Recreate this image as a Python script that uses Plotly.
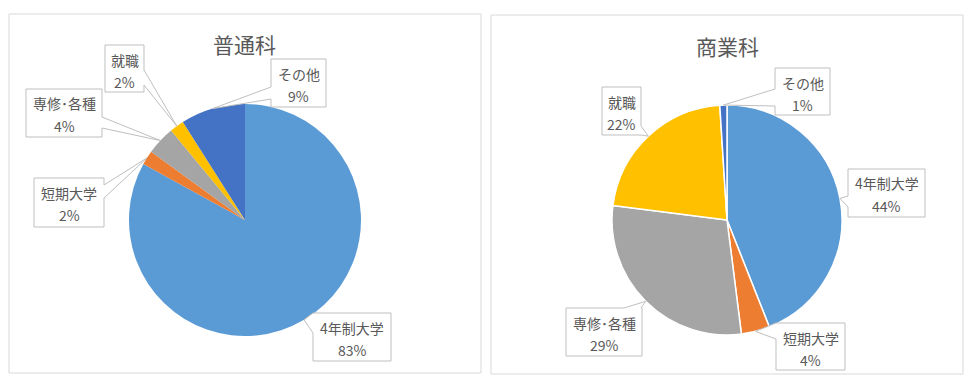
import math
import plotly.graph_objects as go

# ---------------- data ----------------
categories = ["4年制大学", "短期大学", "専修･各種", "就職", "その他"]
futsu_values = [83, 2, 4, 2, 9]      # 普通科
shogyo_values = [44, 4, 29, 22, 1]   # 商業科
titles = ["普通科", "商業科"]
colors = ["#5B9BD5", "#ED7D31", "#A5A5A5", "#FFC000", "#4472C4"]

# ---------------- layout (pixels) ----------------
W, H = 974, 381
FONT = "Noto Sans CJK JP"
TEXT = "#595959"
BORDER = "#D9D9D9"
CALLOUT = "#BFBFBF"

def px(x):
    return x / W

def py(y):
    return 1 - y / H

panels = [
    dict(frame=(9, 14, 481, 373), center=(245, 220), r=116, title_y=44, line=0,
         values=futsu_values,
         boxes=[(313, 313, 391, 361, "l", 313, 333),
                (34, 178, 104, 227, "r", 185, 198),
                (26, 89, 102, 137, "r", 117, 128),
                (105, 45, 144, 92, "r", 70, 85),
                (271, 59, 326, 107, "l", 87, 99)]),
    dict(frame=(491, 15, 963, 374), center=(727, 220), r=115, title_y=46, line=1.5,
         values=shogyo_values,
         boxes=[(848, 169, 925, 217, "l", 196, 207),
                (776, 323, 845, 370, "l", 323, 339),
                (566, 308, 642, 356, "t", 624, 641),
                (602, 87, 641, 135, "r", 126, 135),
                (775, 68, 830, 115, "l", 89, 106)]),
]

fig = go.Figure()
shapes = []
annotations = []

for p, title in zip(panels, titles):
    fx0, fy0, fx1, fy1 = p["frame"]
    shapes.append(dict(type="rect", xref="paper", yref="paper",
                       x0=px(fx0), x1=px(fx1), y0=py(fy1), y1=py(fy0),
                       line=dict(color=BORDER, width=1), fillcolor="rgba(0,0,0,0)",
                       layer="below"))
    cx, cy = p["center"]
    r = p["r"]
    vals = p["values"]
    fig.add_trace(go.Pie(
        labels=categories, values=vals, sort=False, direction="clockwise",
        rotation=0, textinfo="none", showlegend=False,
        marker=dict(colors=colors, line=dict(color="white", width=p["line"])),
        domain=dict(x=[px(cx - r), px(cx + r)], y=[py(cy + r), py(cy - r)]),
    ))
    annotations.append(dict(text=title, x=px(cx), y=py(p["title_y"]), xref="paper",
                            yref="paper", showarrow=False, xanchor="center",
                            yanchor="middle", font=dict(family=FONT, size=21, color=TEXT)))

    total = sum(vals)
    cum = 0
    for name, v, box in zip(categories, vals, p["boxes"]):
        mid = (cum + v / 2) / total
        cum += v
        th = 2 * math.pi * mid
        tx = cx + r * math.sin(th)
        ty = cy - r * math.cos(th)
        x0, y0, x1, y1, side, b0, b1 = box
        if side == "t":
            pts = [(x0, y0), (b0, y0), (tx, ty), (b1, y0), (x1, y0), (x1, y1), (x0, y1)]
        elif side == "r":
            pts = [(x0, y0), (x1, y0), (x1, b0), (tx, ty), (x1, b1), (x1, y1), (x0, y1)]
        elif side == "b":
            pts = [(x0, y0), (x1, y0), (x1, y1), (b1, y1), (tx, ty), (b0, y1), (x0, y1)]
        else:
            pts = [(x0, y0), (x1, y0), (x1, y1), (x0, y1), (x0, b1), (tx, ty), (x0, b0)]
        path = "M " + " L ".join(f"{px(a):.5f},{py(b):.5f}" for a, b in pts) + " Z"
        shapes.append(dict(type="path", xref="paper", yref="paper", path=path,
                           fillcolor="white", line=dict(color=CALLOUT, width=1),
                           layer="above"))
        bx = (x0 + x1) / 2
        annotations.append(dict(text=name, x=px(bx), y=py(y0 + 14.5), xref="paper",
                                yref="paper", showarrow=False, xanchor="center",
                                yanchor="middle", font=dict(family=FONT, size=14, color=TEXT)))
        annotations.append(dict(text=f"{v}%", x=px(bx), y=py(y0 + 37), xref="paper",
                                yref="paper", showarrow=False, xanchor="center",
                                yanchor="middle", font=dict(family=FONT, size=14, color=TEXT)))

fig.update_layout(
    width=W, height=H, margin=dict(l=0, r=0, t=0, b=0),
    paper_bgcolor="white", plot_bgcolor="white",
    shapes=shapes, annotations=annotations,
)

fig.write_html("out.html", config={"displayModeBar": False},
               post_script="document.body.style.margin='0';")
